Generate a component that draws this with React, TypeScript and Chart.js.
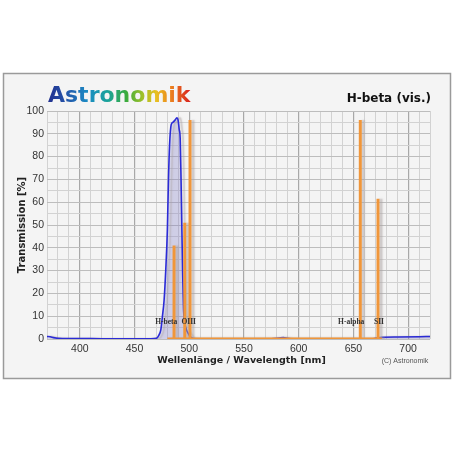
import React, { useEffect, useRef } from "react";
import { Chart, registerables } from "chart.js";

Chart.register(...registerables);

// Filter transmission curve (H-beta), wavelength in nm and transmission in %
const filterNm = [370, 373, 376, 380, 390, 400, 420, 450, 465, 470, 472, 474, 475.5, 477, 478.5, 480, 481, 482, 483.5, 485, 487, 488.7, 489.8, 490.8, 491.7, 492.5, 493.3, 494, 494.8, 496, 497.5, 499, 501, 503, 506, 520, 560, 575, 582, 586, 590, 597, 660, 668, 672, 676, 690, 710, 720];
const filterT = [1.1, 1.0, 0.6, 0.3, 0.2, 0.2, 0.1, 0.1, 0.1, 0.3, 1.5, 4, 10, 17, 30, 48, 70, 85, 94, 95, 96, 97, 96, 92, 88, 70, 47, 28, 13, 7, 4, 2.5, 1, 0.3, 0.1, 0, 0, 0.1, 0.4, 0.6, 0.3, 0, 0, 0.1, 0.5, 0.8, 0.9, 1.0, 1.1];

// Emission lines
const lineNm = [486.1, 495.9, 500.7, 656.3, 672.5];
const lineHeight = [41, 51, 96, 96, 61.5];
const spectrumStart = 480;
const spectrumEnd = 676;

// Emission line labels
const labelText = ["H-beta", "OIII", "H-alpha", "SII"];
const labelNm = [479, 499.5, 648, 673.4];
const labelT = [7.5, 7.5, 7.3, 7.3];

// Axis ticks
const xMin = 370;
const xMax = 720;
const xLabelStep = 50;
const yMin = 0;
const yMax = 100;
const yLabelStep = 10;

const titleText = "H-beta (vis.)";
const logoText = "Astronomik";
const xTitle = "Wellenlänge / Wavelength [nm]";
const yTitle = "Transmission [%]";
const copyright = "(C) Astronomik";

function buildSpectrum() {
  const pts: { x: number; y: number }[] = [{ x: spectrumStart, y: 0 }];
  lineNm.forEach((nm, i) => {
    pts.push({ x: nm, y: 0 });
    pts.push({ x: nm, y: lineHeight[i] });
    pts.push({ x: nm, y: 0 });
  });
  pts.push({ x: spectrumEnd, y: 0 });
  return pts;
}

const decorPlugin = {
  id: "decor",
  beforeDraw(chart: any) {
    const ctx = chart.ctx;
    ctx.save();
    ctx.fillStyle = "#ffffff";
    ctx.fillRect(0, 0, chart.width, chart.height);
    ctx.fillStyle = "#f4f4f4";
    ctx.fillRect(3, 73, 448, 306);
    ctx.strokeStyle = "#9a9a9a";
    ctx.lineWidth = 1.5;
    ctx.strokeRect(3.5, 73.5, 447, 305);
    ctx.restore();
  },
  beforeDatasetsDraw(chart: any) {
    const ctx = chart.ctx;
    ctx.save();
    ctx.shadowColor = "rgba(170,160,160,0.55)";
    ctx.shadowOffsetX = 3;
    ctx.shadowOffsetY = 0;
    ctx.shadowBlur = 1.5;
  },
  afterDatasetsDraw(chart: any) {
    const ctx = chart.ctx;
    ctx.restore();
    const xs = chart.scales.x;
    const ys = chart.scales.y;
    ctx.save();
    ctx.shadowColor = "rgba(0,0,0,0)";
    // emission labels
    ctx.font = "bold 7.5px 'Liberation Serif'";
    ctx.fillStyle = "#333";
    ctx.textAlign = "center";
    ctx.textBaseline = "middle";
    labelText.forEach((t, i) => {
      ctx.fillText(t, xs.getPixelForValue(labelNm[i]), ys.getPixelForValue(labelT[i]));
    });

    // Logo
    ctx.font = "bold 22px 'DejaVu Sans'";
    ctx.textAlign = "left";
    ctx.textBaseline = "alphabetic";
    const w = ctx.measureText(logoText).width;
    const g = ctx.createLinearGradient(48, 0, 48 + w, 0);
    g.addColorStop(0, "#23318f");
    g.addColorStop(0.12, "#2452a8");
    g.addColorStop(0.28, "#1b8cc4");
    g.addColorStop(0.42, "#1aa39a");
    g.addColorStop(0.55, "#3aab3c");
    g.addColorStop(0.66, "#9cc02a");
    g.addColorStop(0.76, "#e8c020");
    g.addColorStop(0.87, "#eb7d1e");
    g.addColorStop(1, "#d8201e");
    ctx.fillStyle = g;
    ctx.fillText(logoText, 48, 102);

    // Title
    ctx.font = "bold 12px 'DejaVu Sans'";
    ctx.fillStyle = "#111";
    ctx.textAlign = "right";
    ctx.textBaseline = "middle";
    ctx.fillText(titleText, 431, 99);

    // Axis titles
    ctx.font = "bold 9.5px 'DejaVu Sans'";
    ctx.fillStyle = "#222";
    ctx.textAlign = "center";
    ctx.fillText(xTitle, 241.5, 361);
    ctx.font = "bold 10px 'DejaVu Sans'";
    ctx.save();
    ctx.translate(22.5, 225);
    ctx.rotate(-Math.PI / 2);
    ctx.fillText(yTitle, 0, 0);
    ctx.restore();

    // copyright
    ctx.font = "7px 'Liberation Sans'";
    ctx.fillStyle = "#555";
    ctx.fillText(copyright, 405, 361);
    ctx.restore();
  },
};

export default function App() {
  const ref = useRef<HTMLCanvasElement>(null);
  useEffect(() => {
    if (!ref.current) return;
    const chart = new Chart(ref.current, {
      type: "line",
      data: {
        datasets: [
          {
            data: filterNm.map((x, i) => ({ x, y: filterT[i] })),
            borderColor: "#2b2bd6",
            borderWidth: 1.6,
            backgroundColor: "rgba(110,110,220,0.22)",
            fill: "origin",
            pointRadius: 0,
            cubicInterpolationMode: "monotone",
            order: 2,
          },
          {
            data: buildSpectrum(),
            borderColor: "#f0963a",
            borderWidth: 3,
            fill: false,
            pointRadius: 0,
            tension: 0,
            borderJoinStyle: "bevel",
            clip: { left: 5, right: 5, top: 5, bottom: 0 },
            order: 1,
          },
        ],
      },
      options: {
        responsive: false,
        animation: false,
        maintainAspectRatio: false,
        layout: { padding: { left: 0, right: 25, top: 111, bottom: 96 } },
        plugins: { legend: { display: false }, tooltip: { enabled: false } },
        scales: {
          x: {
            type: "linear",
            min: xMin,
            max: xMax,
            afterFit: (s: any) => {
              s.height = 20;
            },
            border: { display: false },
            grid: {
              drawTicks: false,
              color: (c: any) => (c.tick && c.tick.value % xLabelStep === 0 ? "#a8a8a8" : "#d2d2d2"),
              lineWidth: (c: any) => (c.tick && c.tick.value % xLabelStep === 0 ? 1.2 : 1),
            },
            ticks: {
              stepSize: 10,
              autoSkip: false,
              maxRotation: 0,
              padding: 4,
              color: "#333",
              font: { family: "'Liberation Sans'", size: 10.5 },
              callback: (v: any) => (Number(v) % xLabelStep === 0 ? String(v) : ""),
            },
          },
          y: {
            min: yMin,
            max: yMax,
            afterFit: (s: any) => {
              s.width = 47;
            },
            border: { display: false },
            grid: {
              drawTicks: false,
              color: (c: any) => (c.tick && c.tick.value % yLabelStep === 0 ? "#bdbdbd" : "#d2d2d2"),
            },
            ticks: {
              stepSize: 5,
              autoSkip: false,
              padding: 3,
              color: "#333",
              font: { family: "'Liberation Sans'", size: 10.5 },
              callback: (v: any) => (Number(v) % yLabelStep === 0 ? String(v) : ""),
            },
          },
        },
      },
      plugins: [decorPlugin],
    } as any);
    return () => chart.destroy();
  }, []);
  return (
    <div style={{ position: "absolute", left: 0, top: 0, width: 455, height: 455, background: "#fff" }}>
      <canvas ref={ref} width={455} height={455} style={{ width: 455, height: 455, display: "block" }} />
    </div>
  );
}
